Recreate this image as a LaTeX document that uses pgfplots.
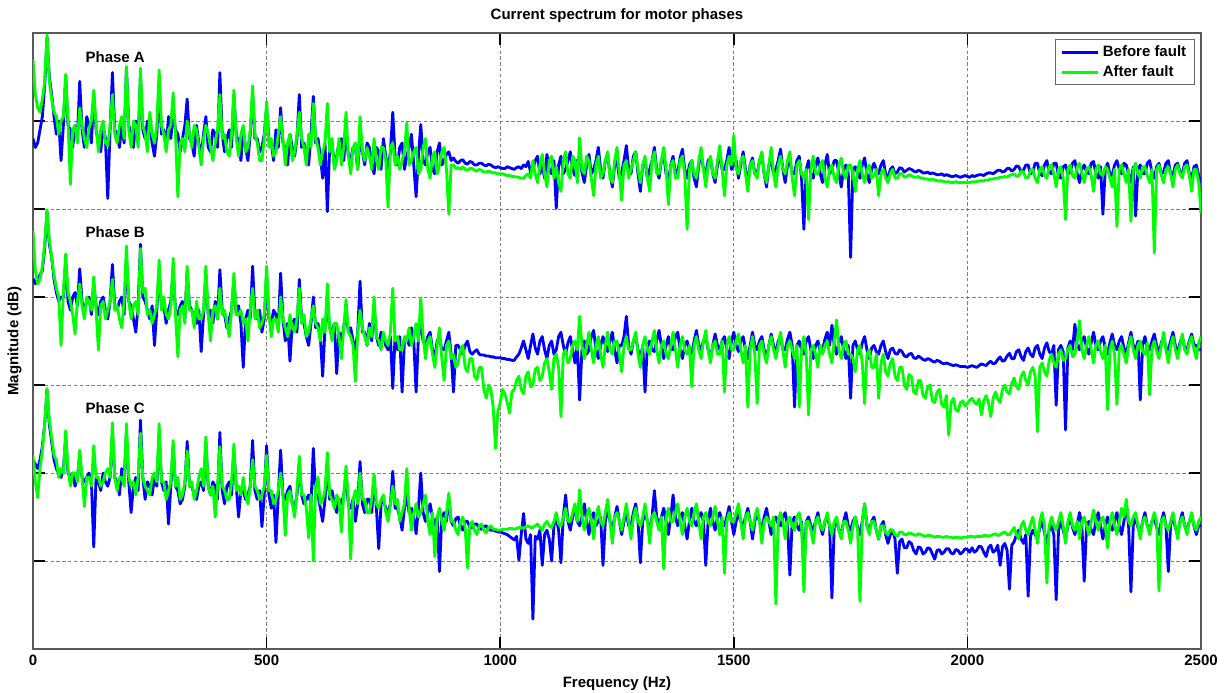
\documentclass[border=0pt]{standalone}
\usepackage{fontspec}
\setmainfont{Liberation Sans}
\usepackage{pgfplots}
\usepackage{pgfplotstable}
\pgfplotsset{compat=1.18}
\usetikzlibrary{calc}
\definecolor{before}{RGB}{0,0,255}
\definecolor{after}{RGB}{0,255,0}
\newcommand{\lab}{\bfseries\fontsize{9}{10.8}\selectfont}

% stacked magnitude bands (arbitrary dB units), 5 Hz steps
\pgfplotstableread{
f b a
0 5.80 6.70
5 5.70 6.30
10 5.75 6.15
15 5.90 6.10
20 6.05 6.25
25 6.40 6.45
30 6.95 6.98
35 6.50 6.45
40 6.30 6.25
45 6.05 6.10
50 5.85 6.05
55 6.00 5.85
60 5.55 6.00
65 5.95 6.05
70 6.50 6.53
75 5.95 6.00
80 5.90 5.28
85 5.70 5.90
90 5.95 5.95
95 5.80 5.75
100 6.45 6.15
105 5.90 5.95
110 5.70 5.80
115 6.05 5.70
120 5.95 5.92
125 5.75 6.00
130 6.30 6.35
135 5.90 5.95
140 5.75 5.65
145 5.65 5.90
150 5.95 6.00
155 5.80 5.75
160 5.12 5.72
165 5.90 5.95
170 6.55 6.30
175 5.90 5.85
180 5.85 5.75
185 5.70 5.95
190 5.95 6.05
195 5.75 5.80
200 6.60 6.62
205 5.95 5.90
210 5.85 5.70
215 5.70 6.00
220 6.00 5.95
225 5.80 5.70
230 6.50 6.60
235 5.90 5.95
240 5.80 5.85
245 6.00 5.65
250 5.95 6.10
255 5.75 5.85
260 5.60 5.75
265 5.85 5.95
270 6.40 6.58
275 5.85 5.95
280 5.90 5.85
285 5.70 5.65
290 6.05 5.90
295 5.80 5.95
300 6.10 6.32
305 5.90 5.85
310 5.85 5.14
315 5.65 5.75
320 5.80 5.80
325 5.95 5.65
330 6.25 6.00
335 5.80 5.85
340 5.75 5.70
345 5.60 5.95
350 5.95 5.90
355 5.75 5.70
360 5.60 5.50
365 5.85 5.80
370 6.05 5.95
375 5.70 5.85
380 5.65 5.70
385 5.90 5.55
390 5.85 5.75
395 5.70 5.90
400 6.55 6.30
405 5.85 5.80
410 5.65 5.85
415 5.80 5.65
420 5.90 5.60
425 5.70 5.85
430 6.30 6.35
435 5.85 5.80
440 5.75 5.60
445 5.55 5.85
450 5.90 5.95
455 5.70 5.65
460 5.55 5.70
465 5.85 5.90
470 6.30 6.40
475 5.80 5.85
480 5.80 5.75
485 5.65 5.55
490 5.70 5.55
495 5.85 5.80
500 6.15 6.22
505 5.80 5.70
510 5.75 5.80
515 5.55 5.60
520 5.90 5.65
525 5.70 5.85
530 6.15 6.05
535 5.75 5.80
540 5.70 5.50
545 5.50 5.75
550 5.85 5.85
555 5.70 5.55
560 5.60 5.65
565 5.80 5.85
570 6.30 6.10
575 5.70 5.80
580 5.75 5.70
585 5.55 5.50
590 5.50 5.85
595 5.85 5.70
600 6.28 6.20
605 5.75 5.80
610 5.80 5.70
615 5.60 5.50
620 5.35 5.65
625 5.75 5.75
630 4.97 6.20
635 5.70 5.65
640 5.75 5.80
645 5.50 5.45
650 5.60 5.55
655 5.75 5.80
660 5.80 5.50
665 5.55 5.70
670 5.90 6.10
675 5.60 5.60
680 5.55 5.40
685 5.70 5.70
690 5.70 5.75
695 5.45 5.45
700 5.80 6.05
705 5.65 5.65
710 5.50 5.55
715 5.75 5.70
720 5.70 5.60
725 5.50 5.45
730 5.40 5.80
735 5.70 5.55
740 5.65 5.45
745 5.45 5.70
750 5.80 5.70
755 5.60 5.55
760 5.45 5.02
765 5.65 5.70
770 6.10 5.75
775 5.60 5.50
780 5.50 5.60
785 5.70 5.45
790 5.75 5.55
795 5.45 5.65
800 5.60 5.98
805 5.70 5.50
810 5.85 5.55
815 5.50 5.65
820 5.14 5.70
825 5.60 5.40
830 5.96 5.45
835 5.55 5.70
840 5.50 5.80
845 5.65 5.45
850 5.70 5.35
855 5.45 5.60
860 5.40 5.65
865 5.65 5.40
870 5.75 5.50
875 5.50 5.65
880 5.55 5.70
885 5.62 5.45
890 5.65 4.94
895 5.55 5.50
900 5.58 5.50
905 5.54 5.46
910 5.52 5.47
915 5.55 5.45
920 5.56 5.48
925 5.52 5.45
930 5.51 5.44
935 5.54 5.46
940 5.53 5.46
945 5.50 5.44
950 5.50 5.43
955 5.52 5.45
960 5.52 5.44
965 5.50 5.42
970 5.49 5.42
975 5.51 5.43
980 5.50 5.42
985 5.48 5.41
990 5.47 5.41
995 5.48 5.40
1000 5.47 5.40
1005 5.46 5.40
1010 5.46 5.39
1015 5.48 5.38
1020 5.47 5.38
1025 5.46 5.37
1030 5.45 5.37
1035 5.47 5.36
1040 5.48 5.36
1045 5.46 5.35
1050 5.50 5.35
1055 5.48 5.38
1060 5.54 5.40
1065 5.42 5.35
1070 5.45 5.55
1075 5.55 5.40
1080 5.60 5.30
1085 5.40 5.50
1090 5.50 5.62
1095 5.35 5.40
1100 5.62 5.25
1105 5.45 5.55
1110 5.40 5.60
1115 5.55 5.35
1120 5.01 5.48
1125 5.50 5.30
1130 5.60 5.20
1135 5.40 5.55
1140 5.45 5.65
1145 5.55 5.40
1150 5.65 5.35
1155 5.45 5.60
1160 5.38 5.55
1165 5.55 5.30
1170 5.58 5.81
1175 5.42 5.45
1180 5.30 5.40
1185 5.50 5.60
1190 5.62 5.55
1195 5.40 5.35
1200 5.45 5.15
1205 5.55 5.50
1210 5.70 5.60
1215 5.45 5.35
1220 5.35 5.40
1225 5.55 5.55
1230 5.60 5.65
1235 5.40 5.35
1240 5.25 5.30
1245 5.50 5.55
1250 5.55 5.70
1255 5.35 5.40
1260 5.42 5.10
1265 5.55 5.50
1270 5.72 5.55
1275 5.45 5.35
1280 5.40 5.45
1285 5.60 5.55
1290 5.65 5.65
1295 5.40 5.45
1300 5.20 5.30
1305 5.50 5.50
1310 5.55 5.60
1315 5.35 5.35
1320 5.45 5.20
1325 5.55 5.55
1330 5.70 5.65
1335 5.45 5.40
1340 5.35 5.40
1345 5.55 5.55
1350 5.62 5.70
1355 5.40 5.45
1360 5.30 5.05
1365 5.50 5.50
1370 5.60 5.55
1375 5.40 5.35
1380 5.42 5.35
1385 5.58 5.55
1390 5.68 5.60
1395 5.45 5.40
1400 5.35 4.77
1405 5.50 5.45
1410 5.55 5.55
1415 5.35 5.40
1420 5.25 5.35
1425 5.50 5.55
1430 5.65 5.70
1435 5.45 5.45
1440 5.40 5.25
1445 5.55 5.50
1450 5.58 5.60
1455 5.40 5.40
1460 5.30 5.35
1465 5.50 5.55
1470 5.62 5.72
1475 5.45 5.45
1480 5.45 5.15
1485 5.55 5.50
1490 5.70 5.60
1495 5.45 5.50
1500 5.50 5.84
1505 5.55 5.45
1510 5.35 5.40
1515 5.50 5.55
1520 5.65 5.60
1525 5.45 5.40
1530 5.30 5.20
1535 5.50 5.50
1540 5.58 5.55
1545 5.40 5.40
1550 5.40 5.35
1555 5.55 5.55
1560 5.62 5.65
1565 5.40 5.40
1570 5.25 5.30
1575 5.50 5.50
1580 5.55 5.70
1585 5.40 5.40
1590 5.45 5.25
1595 5.55 5.50
1600 5.68 5.60
1605 5.45 5.45
1610 5.30 5.40
1615 5.50 5.55
1620 5.55 5.65
1625 5.40 5.35
1630 5.40 5.15
1635 5.55 5.50
1640 5.60 5.55
1645 5.35 5.40
1650 4.77 5.35
1655 5.45 5.45
1660 5.55 4.88
1665 5.40 5.45
1670 5.35 5.60
1675 5.50 5.40
1680 5.58 5.40
1685 5.40 5.50
1690 5.30 5.55
1695 5.50 5.35
1700 5.62 5.25
1705 5.40 5.45
1710 5.45 5.50
1715 5.55 5.35
1720 5.55 5.30
1725 5.40 5.50
1730 5.25 5.58
1735 5.45 5.40
1740 5.50 5.35
1745 5.40 5.50
1750 4.45 5.50
1755 5.45 5.40
1760 5.48 5.20
1765 5.40 5.45
1770 5.35 5.55
1775 5.50 5.40
1780 5.58 5.30
1785 5.40 5.45
1790 5.30 5.50
1795 5.45 5.35
1800 5.52 5.38
1805 5.45 5.45
1810 5.40 5.15
1815 5.50 5.40
1820 5.55 5.45
1825 5.40 5.35
1830 5.35 5.30
1835 5.45 5.40
1840 5.48 5.45
1845 5.40 5.35
1850 5.42 5.35
1855 5.47 5.40
1860 5.46 5.40
1865 5.42 5.36
1870 5.44 5.37
1875 5.46 5.39
1880 5.45 5.38
1885 5.43 5.36
1890 5.42 5.36
1895 5.44 5.37
1900 5.43 5.35
1905 5.41 5.35
1910 5.41 5.34
1915 5.42 5.34
1920 5.40 5.33
1925 5.41 5.34
1930 5.40 5.33
1935 5.39 5.32
1940 5.39 5.32
1945 5.40 5.32
1950 5.38 5.31
1955 5.39 5.31
1960 5.38 5.31
1965 5.37 5.30
1970 5.37 5.30
1975 5.38 5.31
1980 5.37 5.30
1985 5.36 5.30
1990 5.37 5.30
1995 5.38 5.30
2000 5.37 5.30
2005 5.36 5.30
2010 5.38 5.31
2015 5.37 5.31
2020 5.38 5.31
2025 5.39 5.32
2030 5.39 5.32
2035 5.38 5.32
2040 5.40 5.33
2045 5.41 5.33
2050 5.41 5.34
2055 5.40 5.34
2060 5.42 5.35
2065 5.44 5.35
2070 5.44 5.36
2075 5.42 5.36
2080 5.43 5.37
2085 5.46 5.36
2090 5.46 5.38
2095 5.43 5.39
2100 5.45 5.40
2105 5.49 5.37
2110 5.48 5.38
2115 5.42 5.43
2120 5.44 5.42
2125 5.50 5.35
2130 5.50 5.36
2135 5.40 5.44
2140 5.42 5.45
2145 5.52 5.35
2150 5.52 5.30
2155 5.40 5.45
2160 5.38 5.48
2165 5.50 5.38
2170 5.55 5.35
2175 5.42 5.48
2180 5.40 5.50
2185 5.52 5.40
2190 5.52 5.25
2195 5.38 5.45
2200 5.35 5.48
2205 5.48 5.35
2210 5.50 4.88
2215 5.40 5.45
2220 5.42 5.50
2225 5.52 5.38
2230 5.55 5.35
2235 5.40 5.48
2240 5.30 5.52
2245 5.45 5.40
2250 5.50 5.30
2255 5.42 5.45
2260 5.40 5.48
2265 5.52 5.38
2270 5.54 5.20
2275 5.40 5.45
2280 5.35 5.50
2285 5.48 5.40
2290 4.94 5.38
2295 5.45 5.48
2300 5.52 5.45
2305 5.40 5.35
2310 5.38 5.25
2315 5.50 5.45
2320 5.55 4.80
2325 5.45 5.45
2330 5.40 5.50
2335 5.52 5.40
2340 5.50 5.30
2345 5.40 5.45
2350 5.30 4.86
2355 5.48 5.45
2360 4.92 5.52
2365 5.45 5.40
2370 5.50 5.35
2375 5.40 5.48
2380 5.40 5.48
2385 5.52 5.38
2390 5.55 5.30
2395 5.42 5.45
2400 5.35 4.50
2405 5.48 5.45
2410 5.52 5.50
2415 5.40 5.38
2420 5.42 5.30
2425 5.52 5.45
2430 5.55 5.48
2435 5.40 5.40
2440 5.38 5.25
2445 5.50 5.45
2450 5.52 5.50
2455 5.42 5.40
2460 5.40 5.35
2465 5.52 5.48
2470 5.55 5.50
2475 5.40 5.38
2480 5.35 5.20
2485 5.48 5.45
2490 5.50 5.45
2495 5.38 5.30
2500 5.30 4.95
}\phaseA

\pgfplotstableread{
f b a
0 4.21 4.75
5 4.15 4.30
10 4.20 4.15
15 4.25 4.20
20 4.30 4.35
25 4.55 4.60
30 4.97 4.99
35 4.60 4.65
40 4.45 4.45
45 4.20 4.25
50 4.05 4.10
55 3.95 4.00
60 4.00 3.45
65 4.00 4.05
70 4.40 4.49
75 3.95 4.05
80 3.85 3.95
85 4.00 3.80
90 4.05 3.58
95 3.90 3.95
100 4.32 4.15
105 3.95 3.90
110 3.85 3.75
115 3.95 4.00
120 4.00 3.95
125 3.80 3.85
130 4.15 4.23
135 3.90 3.85
140 3.80 3.40
145 3.95 3.90
150 4.00 3.95
155 3.85 3.75
160 3.75 3.85
165 3.95 3.95
170 4.37 4.20
175 3.90 3.85
180 3.85 3.90
185 3.95 3.75
190 4.00 3.65
195 3.80 3.95
200 4.45 4.58
205 3.95 3.95
210 3.90 3.75
215 3.75 3.90
220 3.60 3.95
225 3.90 3.80
230 4.60 4.55
235 4.00 4.05
240 3.95 4.10
245 3.85 3.80
250 3.75 3.85
255 3.90 3.70
260 3.45 3.80
265 3.85 3.90
270 4.30 4.42
275 3.90 3.85
280 3.90 4.00
285 3.70 3.80
290 3.85 3.75
295 3.95 3.90
300 4.30 4.44
305 3.85 3.80
310 3.80 3.32
315 3.90 3.85
320 3.95 3.90
325 3.75 3.70
330 4.30 4.35
335 3.90 3.85
340 3.85 3.85
345 3.75 3.65
350 3.70 3.95
355 3.85 3.75
360 3.38 3.75
365 3.80 3.85
370 4.25 4.35
375 3.80 3.80
380 3.85 3.50
385 3.70 3.85
390 3.95 3.90
395 3.75 3.75
400 4.31 4.10
405 3.85 3.80
410 3.80 3.85
415 3.65 3.70
420 3.75 3.55
425 3.85 3.85
430 4.20 4.27
435 3.80 3.80
440 3.90 3.80
445 3.70 3.85
450 3.20 3.70
455 3.75 3.75
460 3.85 3.50
465 3.75 3.85
470 4.35 4.10
475 3.80 3.75
480 3.75 3.85
485 3.85 3.65
490 3.60 3.70
495 3.75 3.80
500 4.25 4.35
505 3.75 3.80
510 3.70 3.55
515 3.85 3.75
520 3.80 3.75
525 3.65 3.60
530 4.27 4.00
535 3.75 3.75
540 3.50 3.65
545 3.70 3.55
550 3.27 3.80
555 3.70 3.65
560 3.75 3.60
565 3.60 3.75
570 4.20 4.10
575 3.75 3.70
580 3.70 3.80
585 3.55 3.55
590 3.45 3.60
595 3.70 3.75
600 4.00 3.90
605 3.65 3.70
610 3.70 3.65
615 3.55 3.50
620 3.10 3.75
625 3.65 3.60
630 3.90 4.15
635 3.65 3.65
640 3.60 3.50
645 3.70 3.70
650 3.13 3.70
655 3.60 3.55
660 3.50 3.30
665 3.65 3.65
670 3.85 3.97
675 3.60 3.60
680 3.65 3.55
685 3.50 3.45
690 3.40 3.04
695 3.60 3.60
700 4.18 3.85
705 3.60 3.65
710 3.60 3.55
715 3.45 3.45
720 3.70 3.65
725 3.50 3.55
730 3.90 4.00
735 3.55 3.55
740 3.45 3.50
745 3.60 3.40
750 3.55 3.60
755 3.45 3.50
760 3.40 3.45
765 3.55 3.60
770 2.96 4.10
775 3.55 3.50
780 3.40 3.55
785 3.55 3.40
790 2.92 3.40
795 3.50 3.55
800 3.55 3.50
805 3.45 3.65
810 3.65 3.45
815 3.50 3.55
820 2.92 3.70
825 3.55 3.50
830 3.70 3.99
835 3.50 3.55
840 3.45 3.30
845 3.55 3.50
850 3.60 3.55
855 3.40 3.35
860 3.30 3.20
865 3.50 3.45
870 3.55 3.65
875 3.40 3.30
880 3.40 3.05
885 3.50 3.45
890 3.60 3.50
895 3.35 3.30
900 2.92 3.35
905 3.45 3.20
910 3.45 3.25
915 3.40 3.40
920 3.35 3.45
925 3.45 3.20
930 3.50 3.15
935 3.38 3.30
940 3.35 3.30
945 3.38 3.10
950 3.40 3.06
955 3.35 3.20
960 3.34 3.20
965 3.34 2.95
970 3.33 2.85
975 3.33 3.00
980 3.32 2.95
985 3.32 2.75
990 3.31 2.28
995 3.31 2.70
1000 3.31 2.80
1005 3.30 2.95
1010 3.30 2.90
1015 3.29 2.80
1020 3.29 2.68
1025 3.28 2.92
1030 3.28 2.95
1035 3.32 3.05
1040 3.35 3.10
1045 3.42 2.95
1050 3.50 2.90
1055 3.40 3.10
1060 3.30 3.15
1065 3.45 2.98
1070 3.58 3.00
1075 3.42 3.18
1080 3.35 3.20
1085 3.50 3.05
1090 3.55 3.10
1095 3.40 3.25
1100 3.30 3.30
1105 3.45 3.15
1110 3.50 2.95
1115 3.35 3.30
1120 3.40 3.35
1125 3.55 3.20
1130 3.60 2.64
1135 3.45 3.35
1140 3.35 3.40
1145 3.48 3.25
1150 3.55 3.30
1155 3.40 3.45
1160 3.25 3.50
1165 3.45 3.40
1170 2.83 3.78
1175 3.40 3.45
1180 3.50 3.30
1185 3.35 3.45
1190 3.40 3.60
1195 3.55 3.40
1200 3.62 3.25
1205 3.40 3.45
1210 3.30 3.55
1215 3.45 3.35
1220 3.55 3.20
1225 3.45 3.45
1230 3.38 3.60
1235 3.50 3.40
1240 3.60 3.35
1245 3.40 3.50
1250 3.25 3.50
1255 3.45 3.35
1260 3.45 3.15
1265 3.55 3.45
1270 3.78 3.55
1275 3.45 3.40
1280 3.35 3.40
1285 3.50 3.50
1290 3.55 3.60
1295 3.40 3.35
1300 3.30 3.20
1305 3.45 3.45
1310 2.92 3.55
1315 3.45 3.40
1320 3.50 3.35
1325 3.40 3.50
1330 3.38 3.62
1335 3.50 3.40
1340 3.62 3.25
1345 3.45 3.45
1350 3.30 3.50
1355 3.45 3.35
1360 3.55 3.30
1365 3.40 3.45
1370 3.40 3.60
1375 3.55 3.40
1380 3.60 3.20
1385 3.40 3.45
1390 3.30 3.55
1395 3.45 3.40
1400 3.50 3.35
1405 3.40 3.45
1410 3.35 2.98
1415 3.50 3.45
1420 3.62 3.55
1425 3.45 3.40
1430 3.40 3.30
1435 3.50 3.50
1440 3.55 3.62
1445 3.40 3.40
1450 3.30 3.25
1455 3.45 3.45
1460 3.58 3.50
1465 3.45 3.35
1470 3.40 3.35
1475 3.50 3.50
1480 3.55 2.92
1485 3.40 3.45
1490 3.30 3.55
1495 3.50 3.40
1500 3.60 3.40
1505 3.45 3.50
1510 3.38 3.58
1515 3.50 3.40
1520 3.55 3.25
1525 3.40 3.45
1530 3.30 2.75
1535 3.45 3.40
1540 3.60 3.55
1545 3.45 3.35
1550 3.40 2.79
1555 3.50 3.45
1560 3.55 3.50
1565 3.40 3.35
1570 3.30 3.25
1575 3.45 3.45
1580 3.58 3.55
1585 3.45 3.40
1590 3.35 3.30
1595 3.50 3.45
1600 3.55 3.60
1605 3.40 3.40
1610 3.40 3.20
1615 3.52 3.45
1620 3.60 3.50
1625 3.45 3.40
1630 2.75 3.30
1635 3.45 3.45
1640 3.50 2.75
1645 3.40 3.40
1650 3.35 3.55
1655 3.50 3.35
1660 3.55 2.66
1665 3.40 3.40
1670 3.30 3.45
1675 3.45 3.35
1680 3.50 3.20
1685 3.38 3.45
1690 3.40 3.35
1695 3.52 3.45
1700 3.60 3.50
1705 3.45 3.35
1710 3.68 3.25
1715 3.45 3.50
1720 3.35 3.74
1725 3.48 3.40
1730 3.55 3.30
1735 3.40 3.45
1740 3.30 3.50
1745 3.45 3.35
1750 2.85 3.35
1755 3.45 3.30
1760 3.50 3.15
1765 3.40 3.40
1770 3.35 3.45
1775 3.48 3.25
1780 3.55 2.79
1785 3.40 3.35
1790 3.30 3.40
1795 3.42 3.20
1800 3.45 3.20
1805 3.38 3.35
1810 3.35 2.85
1815 3.45 3.25
1820 3.50 3.35
1825 3.38 3.15
1830 3.30 3.10
1835 3.40 3.25
1840 3.42 3.30
1845 3.36 3.10
1850 3.35 3.05
1855 3.40 3.20
1860 3.38 3.20
1865 3.33 3.00
1870 3.32 2.95
1875 3.35 3.12
1880 3.36 3.10
1885 3.31 2.92
1890 3.30 2.90
1895 3.33 3.05
1900 3.31 3.05
1905 3.29 2.88
1910 3.28 2.85
1915 3.30 2.98
1920 3.29 3.00
1925 3.27 2.82
1930 3.26 2.80
1935 3.28 2.92
1940 3.27 2.95
1945 3.25 2.78
1950 3.24 2.75
1955 3.25 2.88
1960 3.24 2.43
1965 3.23 2.80
1970 3.22 2.85
1975 3.23 2.72
1980 3.22 2.70
1985 3.21 2.80
1990 3.21 2.82
1995 3.21 2.76
2000 3.20 2.79
2005 3.21 2.83
2010 3.22 2.85
2015 3.21 2.80
2020 3.20 2.78
2025 3.22 2.84
2030 3.24 2.66
2035 3.23 2.82
2040 3.22 2.88
2045 3.25 2.80
2050 3.27 2.64
2055 3.24 2.85
2060 3.25 2.92
2065 3.29 2.84
2070 3.32 2.80
2075 3.27 2.95
2080 3.28 3.00
2085 3.33 2.92
2090 3.36 2.90
2095 3.30 3.02
2100 3.30 3.08
2105 3.38 2.98
2110 3.40 2.95
2115 3.32 3.10
2120 3.28 3.15
2125 3.38 3.05
2130 3.42 3.00
2135 3.35 3.15
2140 3.32 3.20
2145 3.42 3.10
2150 3.45 2.47
2155 3.35 3.20
2160 3.30 3.25
2165 3.42 3.15
2170 3.48 3.10
2175 3.38 3.28
2180 3.35 3.35
2185 3.45 3.25
2190 2.77 3.20
2195 3.40 3.35
2200 3.45 3.40
2205 3.38 3.28
2210 2.49 3.30
2215 3.42 3.40
2220 3.50 3.45
2225 3.40 3.32
2230 3.69 3.35
2235 3.45 3.50
2240 3.40 3.73
2245 3.50 3.40
2250 3.55 3.30
2255 3.42 3.45
2260 3.35 3.55
2265 3.48 3.40
2270 3.60 3.25
2275 3.45 3.45
2280 3.40 3.50
2285 3.50 3.38
2290 3.55 3.30
2295 3.42 3.45
2300 3.35 2.72
2305 3.48 3.40
2310 3.58 3.50
2315 3.45 3.35
2320 3.40 2.78
2325 3.50 3.40
2330 3.55 3.45
2335 3.42 3.35
2340 3.35 3.25
2345 3.48 3.45
2350 3.60 3.55
2355 3.45 3.40
2360 3.40 3.30
2365 3.50 3.45
2370 2.83 3.50
2375 3.45 3.38
2380 3.55 3.35
2385 3.42 3.48
2390 3.40 2.89
2395 3.50 3.42
2400 3.58 3.50
2405 3.45 3.38
2410 3.35 3.30
2415 3.48 3.45
2420 3.55 3.60
2425 3.42 3.40
2430 3.40 3.25
2435 3.50 3.45
2440 3.60 3.55
2445 3.45 3.40
2450 3.35 3.30
2455 3.48 3.45
2460 3.55 3.58
2465 3.42 3.40
2470 3.40 3.35
2475 3.50 3.48
2480 3.58 3.55
2485 3.45 3.40
2490 3.45 3.30
2495 3.40 3.48
2500 3.40 3.55
}\phaseB

\pgfplotstableread{
f b a
0 2.15 2.20
5 2.10 1.90
10 2.05 1.72
15 2.15 2.05
20 2.30 2.25
25 2.55 2.55
30 2.95 2.96
35 2.55 2.60
40 2.35 2.40
45 2.15 2.20
50 2.05 2.15
55 2.00 1.95
60 1.95 2.05
65 2.05 2.00
70 2.40 2.48
75 2.00 2.05
80 1.95 1.85
85 2.00 2.00
90 1.85 2.00
95 1.95 1.90
100 2.20 2.26
105 1.95 1.95
110 1.90 1.62
115 1.95 1.95
120 2.00 1.95
125 1.90 1.85
130 1.16 2.31
135 1.95 1.95
140 1.90 1.95
145 1.80 1.85
150 2.00 1.90
155 1.90 2.00
160 1.85 2.05
165 1.95 1.95
170 2.45 2.57
175 1.95 1.95
180 1.90 1.80
185 1.75 1.95
190 2.05 1.95
195 1.90 1.85
200 2.45 2.56
205 1.90 1.95
210 1.55 1.85
215 1.85 1.90
220 1.95 1.75
225 1.80 1.95
230 2.60 2.45
235 1.95 1.95
240 1.70 1.85
245 1.90 1.80
250 1.85 1.75
255 1.75 1.95
260 1.95 2.00
265 1.85 1.90
270 2.45 2.56
275 1.90 1.90
280 1.80 1.90
285 1.90 1.70
290 1.42 1.80
295 1.85 1.90
300 2.30 2.37
305 1.85 1.85
310 1.80 1.95
315 1.65 1.70
320 1.70 1.75
325 1.85 1.90
330 2.36 2.25
335 1.85 1.85
340 1.85 1.90
345 1.75 1.70
350 1.70 1.80
355 1.85 1.95
360 1.90 2.05
365 1.80 1.85
370 2.35 2.41
375 1.85 1.85
380 1.75 1.75
385 1.90 1.85
390 1.85 1.50
395 1.70 1.85
400 2.46 2.30
405 1.80 1.85
410 1.65 1.80
415 1.85 1.70
420 1.90 1.70
425 1.75 1.90
430 2.25 2.33
435 1.85 1.80
440 1.50 1.85
445 1.80 1.75
450 1.80 1.95
455 1.70 1.75
460 1.75 1.65
465 1.85 1.85
470 2.37 2.15
475 1.80 1.85
480 1.70 1.80
485 1.80 1.70
490 1.39 1.75
495 1.75 1.85
500 2.31 2.20
505 1.75 1.80
510 1.60 1.80
515 1.75 1.65
520 1.21 1.70
525 1.75 1.80
530 2.26 2.00
535 1.75 1.75
540 1.70 1.29
545 1.80 1.75
550 1.85 1.80
555 1.65 1.65
560 1.60 1.50
565 1.75 1.80
570 2.10 2.19
575 1.75 1.75
580 1.65 1.75
585 1.70 1.60
590 1.75 1.26
595 1.65 1.75
600 2.28 1.00
605 1.75 1.85
610 1.75 1.95
615 1.60 1.65
620 1.45 1.70
625 1.70 1.80
630 2.10 2.23
635 1.70 1.75
640 1.80 1.70
645 1.65 1.60
650 1.55 1.75
655 1.70 1.70
660 1.65 1.33
665 1.75 1.75
670 1.95 2.08
675 1.65 1.70
680 1.60 1.02
685 1.70 1.70
690 1.45 1.80
695 1.65 1.65
700 2.13 2.00
705 1.65 1.70
710 1.55 1.70
715 1.70 1.55
720 1.70 1.55
725 1.55 1.70
730 1.95 1.99
735 1.60 1.65
740 1.14 1.60
745 1.65 1.70
750 1.70 1.75
755 1.60 1.55
760 1.55 1.45
765 1.65 1.65
770 2.02 1.85
775 1.60 1.65
780 1.60 1.70
785 1.50 1.45
790 1.35 1.55
795 1.60 1.65
800 1.75 2.05
805 1.55 1.60
810 1.60 1.35
815 1.50 1.55
820 1.31 1.65
825 1.60 1.50
830 2.00 1.55
835 1.55 1.65
840 1.45 1.75
845 1.55 1.45
850 1.65 1.30
855 1.50 1.55
860 1.40 1.05
865 1.50 1.50
870 0.88 1.60
875 1.50 1.45
880 1.55 1.35
885 1.45 1.55
890 1.71 1.77
895 1.45 1.45
900 1.40 1.45
905 1.48 1.35
910 1.50 1.30
915 1.40 1.45
920 1.35 1.50
925 1.45 1.38
930 1.45 0.92
935 1.38 1.40
940 1.38 1.45
945 1.42 1.35
950 1.42 1.30
955 1.37 1.40
960 1.36 1.42
965 1.39 1.35
970 1.40 1.32
975 1.36 1.38
980 1.35 1.40
985 1.35 1.36
990 1.34 1.36
995 1.33 1.35
1000 1.33 1.35
1005 1.32 1.36
1010 1.31 1.36
1015 1.30 1.36
1020 1.28 1.37
1025 1.26 1.37
1030 1.24 1.36
1035 1.28 1.37
1040 1.01 1.38
1045 1.30 1.38
1050 1.54 1.37
1055 1.25 1.39
1060 1.20 1.40
1065 1.30 1.38
1070 0.34 1.38
1075 1.28 1.40
1080 1.25 1.42
1085 1.35 1.38
1090 0.95 1.35
1095 1.30 1.42
1100 1.35 1.45
1105 1.25 1.40
1110 1.00 1.38
1115 1.40 1.45
1120 1.50 1.55
1125 1.35 1.42
1130 0.98 1.40
1135 1.50 1.50
1140 1.75 1.60
1145 1.45 1.45
1150 1.35 1.45
1155 1.50 1.55
1160 1.60 1.65
1165 1.45 1.45
1170 1.40 1.81
1175 1.50 1.50
1180 1.65 1.35
1185 1.45 1.50
1190 1.30 1.60
1195 1.50 1.45
1200 1.55 1.25
1205 1.40 1.50
1210 1.45 1.62
1215 1.50 1.45
1220 0.95 1.40
1225 1.45 1.55
1230 1.60 1.70
1235 1.45 1.45
1240 1.35 1.20
1245 1.50 1.50
1250 1.62 1.55
1255 1.45 1.45
1260 1.30 1.35
1265 1.45 1.50
1270 1.55 1.65
1275 1.40 1.45
1280 1.40 1.25
1285 1.55 1.50
1290 1.65 1.60
1295 1.45 1.45
1300 0.98 1.40
1305 1.45 1.50
1310 1.55 1.65
1315 1.45 1.45
1320 1.35 1.20
1325 1.50 1.50
1330 1.80 1.55
1335 1.50 1.45
1340 1.40 1.35
1345 1.50 1.50
1350 1.60 0.91
1355 1.45 1.50
1360 1.30 1.60
1365 1.50 1.45
1370 1.75 1.45
1375 1.50 1.55
1380 1.40 1.65
1385 1.50 1.45
1390 1.55 1.30
1395 1.40 1.50
1400 1.25 1.60
1405 1.45 1.45
1410 1.60 1.40
1415 1.45 1.55
1420 1.40 1.65
1425 1.50 1.45
1430 1.55 1.25
1435 1.45 1.50
1440 0.95 1.55
1445 1.45 1.45
1450 1.60 1.40
1455 1.45 1.50
1460 1.35 1.62
1465 1.50 1.45
1470 1.55 1.30
1475 1.45 1.50
1480 1.40 0.86
1485 1.50 1.45
1490 1.62 1.55
1495 1.45 1.45
1500 1.30 1.45
1505 1.45 1.55
1510 1.55 1.65
1515 1.45 1.45
1520 1.40 1.25
1525 1.50 1.50
1530 1.60 1.55
1535 1.45 1.45
1540 1.25 1.35
1545 1.45 1.50
1550 1.55 1.60
1555 1.45 1.45
1560 1.35 1.20
1565 1.50 1.45
1570 1.60 1.50
1575 1.45 1.45
1580 1.30 1.40
1585 1.45 1.50
1590 1.50 0.51
1595 1.42 1.45
1600 1.40 1.55
1605 1.50 1.45
1610 1.55 1.25
1615 1.40 1.45
1620 0.84 1.50
1625 1.45 1.40
1630 1.50 1.35
1635 1.40 1.50
1640 1.35 1.55
1645 1.45 1.40
1650 0.90 0.65
1655 1.45 1.45
1660 1.50 1.45
1665 1.40 1.35
1670 1.35 1.20
1675 1.45 1.45
1680 1.55 1.50
1685 1.40 1.40
1690 1.30 1.35
1695 1.45 1.45
1700 1.50 1.55
1705 1.40 1.40
1710 0.58 1.30
1715 1.40 1.45
1720 1.45 1.50
1725 1.35 1.35
1730 1.30 1.25
1735 1.45 1.45
1740 1.55 1.45
1745 1.40 1.35
1750 1.35 1.20
1755 1.45 1.40
1760 1.50 1.50
1765 1.38 1.35
1770 1.30 0.54
1775 1.45 1.45
1780 1.65 1.65
1785 1.40 1.40
1790 1.35 1.30
1795 1.45 1.45
1800 1.50 1.45
1805 1.35 1.35
1810 1.25 1.25
1815 1.40 1.40
1820 1.45 1.40
1825 1.30 1.32
1830 1.20 1.30
1835 1.30 1.36
1840 1.35 1.35
1845 1.25 1.30
1850 0.86 1.28
1855 1.22 1.33
1860 1.25 1.33
1865 1.15 1.30
1870 1.15 1.30
1875 1.22 1.32
1880 1.20 1.31
1885 1.12 1.30
1890 1.08 1.29
1895 1.16 1.31
1900 1.15 1.30
1905 1.08 1.29
1910 1.10 1.28
1915 1.15 1.29
1920 1.14 1.29
1925 1.08 1.28
1930 1.02 1.27
1935 1.12 1.28
1940 1.13 1.28
1945 1.08 1.27
1950 1.10 1.27
1955 1.14 1.28
1960 1.14 1.27
1965 1.09 1.27
1970 1.08 1.26
1975 1.13 1.27
1980 1.12 1.27
1985 1.08 1.26
1990 1.10 1.27
1995 1.14 1.27
2000 1.13 1.27
2005 1.10 1.28
2010 1.15 1.28
2015 1.10 1.27
2020 1.12 1.28
2025 1.17 1.28
2030 1.16 1.28
2035 1.10 1.29
2040 1.05 1.29
2045 1.15 1.28
2050 1.18 1.29
2055 1.10 1.30
2060 1.12 1.31
2065 1.18 1.29
2070 0.95 1.30
2075 1.16 1.32
2080 1.20 1.33
2085 1.12 1.30
2090 0.68 1.30
2095 1.18 1.34
2100 1.22 1.38
2105 1.30 1.30
2110 1.35 1.25
2115 1.25 1.40
2120 1.20 1.45
2125 1.30 1.35
2130 0.60 1.30
2135 1.28 1.42
2140 1.35 1.50
2145 1.30 1.35
2150 1.25 1.20
2155 1.38 1.45
2160 1.45 1.55
2165 1.32 1.40
2170 1.20 0.75
2175 1.35 1.40
2180 1.40 1.50
2185 1.30 1.40
2190 0.56 1.35
2195 1.35 1.45
2200 1.45 1.55
2205 1.35 1.40
2210 1.25 1.20
2215 1.40 1.45
2220 1.50 1.55
2225 1.38 1.40
2230 1.30 1.35
2235 1.42 1.45
2240 1.55 1.25
2245 1.40 1.45
2250 0.77 1.50
2255 1.40 1.40
2260 1.45 1.30
2265 1.35 1.45
2270 1.30 1.58
2275 1.45 1.45
2280 1.55 1.35
2285 1.40 1.45
2290 1.25 1.50
2295 1.40 1.40
2300 1.50 1.15
2305 1.40 1.45
2310 1.35 1.55
2315 1.45 1.40
2320 1.55 1.30
2325 1.40 1.45
2330 1.30 1.60
2335 1.45 1.50
2340 1.65 1.70
2345 1.40 1.45
2350 0.65 1.40
2355 1.40 1.50
2360 1.50 1.55
2365 1.38 1.40
2370 1.30 1.25
2375 1.45 1.45
2380 1.55 1.50
2385 1.40 1.40
2390 1.35 1.30
2395 1.45 1.45
2400 1.50 1.55
2405 1.38 1.45
2410 1.30 0.66
2415 1.45 1.45
2420 1.55 1.50
2425 1.40 1.40
2430 0.88 1.35
2435 1.42 1.45
2440 1.50 1.55
2445 1.38 1.40
2450 1.30 1.25
2455 1.45 1.45
2460 1.55 1.50
2465 1.40 1.40
2470 1.35 1.30
2475 1.45 1.45
2480 1.52 1.55
2485 1.40 1.40
2490 1.30 1.35
2495 1.40 1.45
2500 1.40 1.50
}\phaseC

\begin{document}
\begin{tikzpicture}
\begin{axis}[
  name=main,
  scale only axis,
  width=700.8pt, height=369.6pt,
  xmin=0, xmax=2500, ymin=0, ymax=7,
  xtick={0,500,1000,1500,2000,2500},
  ytick={1,2,3,4,5,6}, yticklabels={},
  grid=major,
  grid style={gray, line width=0.5pt, dash pattern=on 2pt off 1.5pt},
  tick align=inside, major tick length=7pt,
  tick style={black, line width=0.9pt},
  axis line style={black!65, line width=0.9pt},
  /pgf/number format/1000 sep={},
  /pgf/number format/assume math mode=true,
  tick label style={font=\lab},
  title={Current spectrum for motor phases},
  every axis title/.style={font=\lab, at={(rel axis cs:0.5,1)}, anchor=base, yshift=7.8pt},
  xlabel={Frequency (Hz)},
  xlabel style={font=\lab},
  ylabel={Magnitude (dB)},
  ylabel style={font=\lab, at={(rel axis cs:0,0.5)}, anchor=south, inner ysep=6.6pt},
  legend style={at={(rel axis cs:1,1)}, anchor=north east, xshift=-3.6pt, yshift=-3.6pt,
    draw=black!60, line width=0.6pt, font=\lab, inner xsep=3pt, inner ysep=1.5pt,
    cells={anchor=west}},
  legend image code/.code={\draw[#1, line width=1.8pt] (0pt,0pt) -- (21.6pt,0pt);},
  every axis plot/.append style={line width=1.7pt, line join=round},
]
\addplot[before] table[x=f, y=b] {\phaseA};
\addlegendentry{Before fault}
\addplot[before, forget plot] table[x=f, y=b] {\phaseB};
\addplot[before, forget plot] table[x=f, y=b] {\phaseC};
\addplot[after] table[x=f, y=a] {\phaseA};
\addlegendentry{After fault}
\addplot[after, forget plot] table[x=f, y=a] {\phaseB};
\addplot[after, forget plot] table[x=f, y=a] {\phaseC};
\node[font=\lab, anchor=base west] at (axis cs:100,6.67) {Phase A};
\node[font=\lab, anchor=base west] at (axis cs:100,4.68) {Phase B};
\node[font=\lab, anchor=base west] at (axis cs:100,2.68) {Phase C};
\end{axis}
\pgfresetboundingbox
\path ($(main.south west)+(-19.8pt,-25.8pt)$) rectangle ($(main.north east)+(14.4pt,19.8pt)$);
\end{tikzpicture}
\end{document}
